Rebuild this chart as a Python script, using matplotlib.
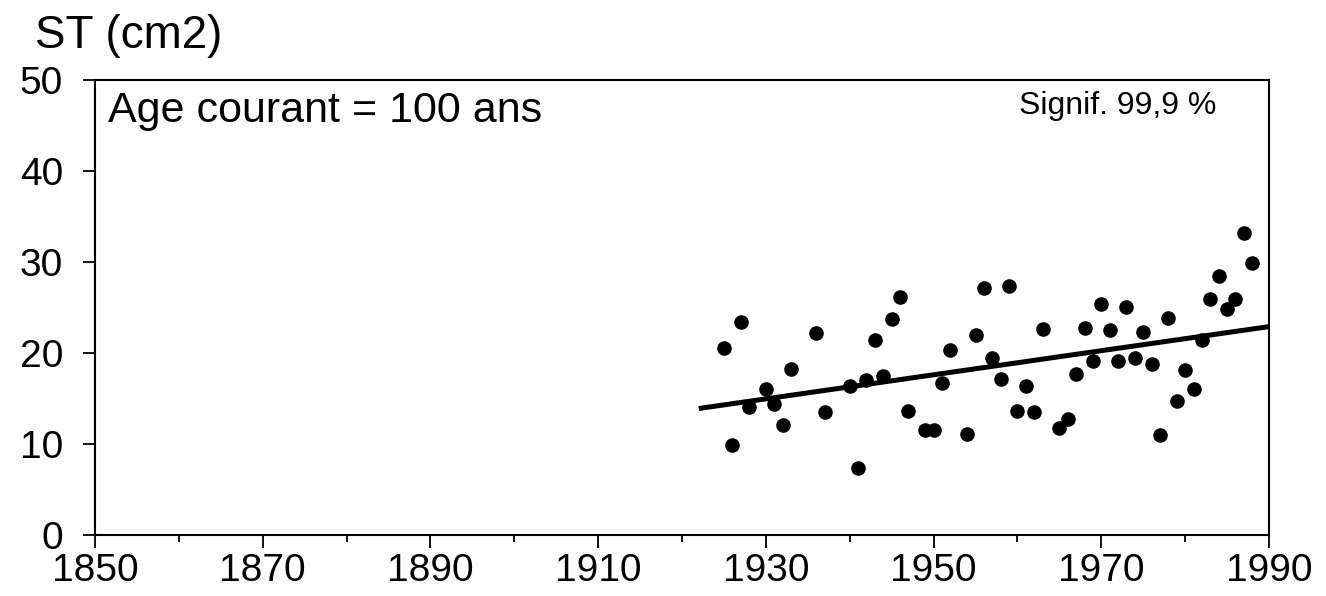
import matplotlib
matplotlib.use("Agg")
import matplotlib.pyplot as plt
from matplotlib.ticker import MultipleLocator

plt.rcParams['font.family'] = ['Liberation Sans', 'DejaVu Sans']

# Annual basal area observations (cm2) at current age 100 years
years = [1925, 1926, 1927, 1928, 1930, 1931, 1932, 1933, 1936, 1937,
         1940, 1941, 1942, 1943, 1944, 1945, 1946, 1947, 1949, 1950,
         1951, 1952, 1954, 1955, 1956, 1957, 1958, 1959, 1960, 1961,
         1962, 1963, 1965, 1966, 1967, 1968, 1969, 1970, 1971, 1972,
         1973, 1974, 1975, 1976, 1977, 1978, 1979, 1980, 1981, 1982,
         1983, 1984, 1985, 1986, 1987, 1988]
st_values = [20.6, 9.9, 23.4, 14.1, 16.0, 14.4, 12.1, 18.2, 22.2, 13.5,
             16.4, 7.4, 17.0, 21.4, 17.5, 23.7, 26.2, 13.6, 11.5, 11.5,
             16.7, 20.3, 11.1, 22.0, 27.1, 19.5, 17.1, 27.4, 13.6, 16.4,
             13.5, 22.6, 11.8, 12.7, 17.7, 22.8, 19.1, 25.4, 22.5, 19.1,
             25.1, 19.4, 22.3, 18.8, 11.0, 23.9, 14.7, 18.1, 16.0, 21.4,
             25.9, 28.5, 24.8, 25.9, 33.2, 29.9]

# Linear trend end points
trend_years = [1922, 1990]
trend_values = [13.9, 22.9]

x_ticks = [1850, 1870, 1890, 1910, 1930, 1950, 1970, 1990]
y_ticks = [0, 10, 20, 30, 40, 50]

fig = plt.figure(figsize=(13.26, 5.96), dpi=100)
ax = fig.add_axes([95 / 1326, 1 - 535 / 596, (1269 - 95) / 1326, (535 - 80) / 596])

ax.plot(years, st_values, 'o', color='black', markersize=10.5, markeredgewidth=0)
ax.plot(trend_years, trend_values, '-', color='black', linewidth=3.6,
        solid_capstyle='butt')

ax.set_xlim(1850, 1990)
ax.set_ylim(0, 50)
ax.set_xticks(x_ticks)
ax.set_xticklabels([str(v) for v in x_ticks])
ax.xaxis.set_minor_locator(MultipleLocator(10))
ax.set_yticks(y_ticks)
ax.set_yticklabels([str(v) for v in y_ticks])

ax.tick_params(axis='x', which='major', direction='out', length=9, width=1.3,
               labelsize=28, pad=4)
ax.tick_params(axis='x', which='minor', direction='out', length=5, width=1.3)
ax.tick_params(axis='y', which='major', direction='out', length=9, width=1.3,
               labelsize=28, pad=14)

for side in ax.spines.values():
    side.set_linewidth(1.5)
    side.set_color('black')

ax.text(0.011, 0.975, 'Age courant = 100 ans', transform=ax.transAxes,
        fontsize=31, ha='left', va='top')
ax.text(0.955, 0.975, 'Signif. 99,9 %', transform=ax.transAxes,
        fontsize=23, ha='right', va='top')
fig.text(35 / 1326, 1 - 48 / 596, 'ST (cm2)', fontsize=33, ha='left',
         va='baseline')

fig.savefig('out.png', dpi=100, facecolor='white')
